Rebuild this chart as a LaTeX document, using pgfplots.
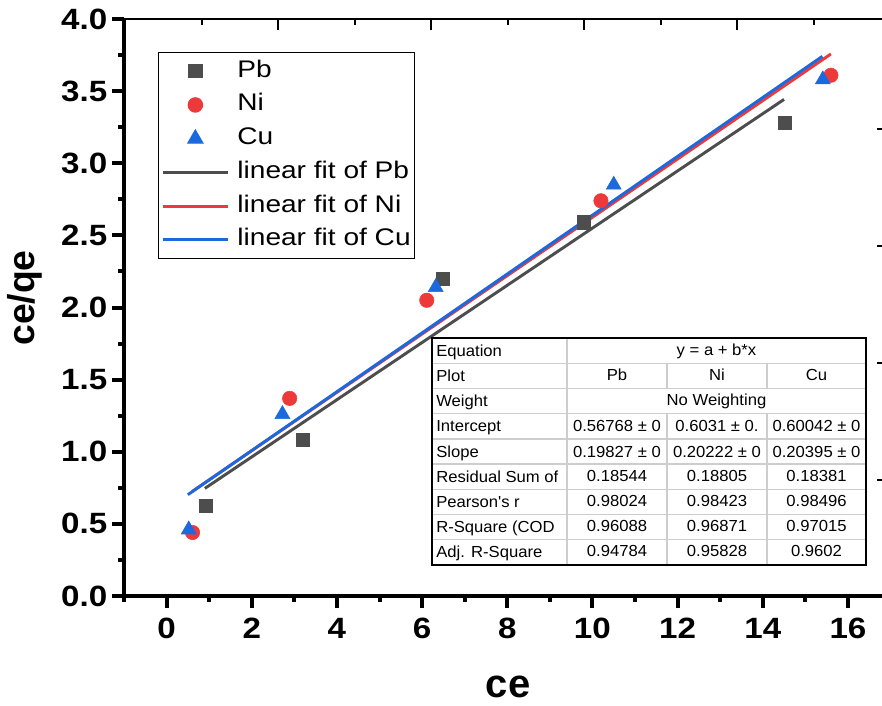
\documentclass[border=0pt]{standalone}
\usepackage{fontspec}
\setmainfont{Liberation Sans}
\newfontfamily\widefont[FakeStretch=1.13]{Liberation Sans}
\newfontfamily\legfont[FakeStretch=1.17]{Liberation Sans}
\newfontfamily\tabfam[FakeStretch=1.04]{Liberation Sans}
\usepackage{pgfplots}
\pgfplotsset{compat=1.18}
\definecolor{cPb}{RGB}{77,77,77}
\definecolor{cNi}{RGB}{238,57,59}
\definecolor{cCu}{RGB}{27,105,222}
\definecolor{tgrid}{RGB}{205,205,205}
\newcommand{\tabfont}{\tabfam\fontsize{12}{12}\selectfont}
\begin{document}
\begin{tikzpicture}
\useasboundingbox (0,0) rectangle (661.5pt,-529.5pt);
% overlay axis for the thin top line and its ticks (other layer)
\begin{axis}[
  at={(93pt,-447pt)}, anchor=south west,
  scale only axis, width=568.5pt, height=432.75pt,
  xmin=124, xmax=882, ymin=-596, ymax=-19,
  axis x line*=top, axis y line*=right,
  x axis line style={line width=1.3pt,-},
  y axis line style={draw=none},
  xtick=\empty, ytick=\empty,
  clip=false,
]
\pgfplotsinvokeforeach{278,431,584,737}{\fill (axis cs:#1,-19) ++(-0.75pt,0pt) rectangle ++(1.5pt,-8pt);}
\pgfplotsinvokeforeach{202,355,508,661,814}{\fill (axis cs:#1,-19) ++(-0.75pt,0pt) rectangle ++(1.5pt,-4.5pt);}
\pgfplotsinvokeforeach{-480,-363,-246,-129}{\fill (axis cs:882,#1) ++(0pt,-0.6pt) rectangle ++(-4pt,1.2pt);}
\end{axis}
\begin{axis}[
  at={(93pt,-447pt)}, anchor=south west,
  scale only axis, width=568.5pt, height=432.75pt,
  xmin=-1, xmax=16.8, ymin=0, ymax=4,
  axis x line*=bottom, axis y line*=left,
  axis line style={line width=3.2pt,-},
  xtick={0,2,...,16}, minor xtick={-1,1,...,15},
  ytick={0,0.5,...,4}, minor ytick={0.25,0.75,...,3.75},
  tick align=outside,
  major tick length=9pt, minor tick length=4.5pt,
  tick label style={font=\widefont\bfseries\fontsize{22}{22}\selectfont, /pgf/number format/assume math mode=true},
  xticklabel style={yshift=-4pt},
  yticklabel style={/pgf/number format/fixed, /pgf/number format/fixed zerofill, /pgf/number format/precision=1},
  xlabel={ce}, ylabel={ce/qe},
  xlabel style={at={(axis description cs:0.5066,-0.176)}, anchor=base, font=\bfseries\fontsize{30}{30}\selectfont},
  ylabel style={at={(axis description cs:-0.1306,0.5165)}, anchor=center, font=\bfseries\fontsize{28}{28}\selectfont},
  legend style={at={(axis description cs:0.0449,0.9428)}, anchor=north west, draw=black, thick,
    font=\legfont\fontsize{18}{18}\selectfont, inner xsep=2pt, inner ysep=4.5pt,
    nodes={inner sep=1pt, text height=13pt, text depth=4pt},
    row sep=6.3pt, cells={anchor=west},
    /tikz/every odd column/.append style={column sep=5pt}},
  clip=false,
]
\addplot[only marks, mark=square*, mark size=5pt, color=cPb,
  legend image code/.code={\draw[mark repeat=2,mark phase=2] plot coordinates {(0pt,0pt)(24.4pt,0pt)(48.75pt,0pt)};}]
  coordinates {(0.92,0.625)(3.2,1.083)(6.48,2.2)(9.8,2.59)(14.52,3.28)};
\addlegendentry{Pb}
\addplot[only marks, mark=*, mark size=5.4pt, color=cNi,
  legend image code/.code={\draw[mark repeat=2,mark phase=2] plot coordinates {(0pt,0pt)(24.4pt,0pt)(48.75pt,0pt)};}]
  coordinates {(0.61,0.44)(2.89,1.37)(6.11,2.05)(10.2,2.74)(15.6,3.61)};
\addlegendentry{Ni}
\addplot[only marks, mark=triangle*, mark size=6.5pt, color=cCu,
  legend image code/.code={\draw[mark repeat=2,mark phase=2] plot coordinates {(0pt,0pt)(24.4pt,0pt)(48.75pt,0pt)};}]
  coordinates {(0.52,0.46)(2.72,1.26)(6.32,2.14)(10.5,2.85)(15.41,3.58)};
\addlegendentry{Cu}
\addplot[no marks, color=cPb, line width=2.2pt,
  legend image code/.code={\draw[line width=2.4pt] plot coordinates {(0pt,0pt)(48.75pt,0pt)};}]
  coordinates {(0.9,0.7461)(14.5,3.4426)};
\addlegendentry{linear fit of Pb}
\addplot[no marks, color=cNi, line width=2.2pt,
  legend image code/.code={\draw[line width=2.4pt] plot coordinates {(0pt,0pt)(48.75pt,0pt)};}]
  coordinates {(0.6,0.7244)(15.6,3.7577)};
\addlegendentry{linear fit of Ni}
\addplot[no marks, color=cCu, line width=2.2pt,
  legend image code/.code={\draw[line width=2.4pt] plot coordinates {(0pt,0pt)(48.75pt,0pt)};}]
  coordinates {(0.5,0.7024)(15.4,3.7412)};
\addlegendentry{linear fit of Cu}
% thick tick marks as filled bars
\pgfplotsinvokeforeach{0,2,4,6,8,10,12,14,16}{\fill (axis cs:#1,0) ++(-1.5pt,0pt) rectangle ++(3pt,-9pt);}
\pgfplotsinvokeforeach{-1,1,3,5,7,9,11,13,15}{\fill (axis cs:#1,0) ++(-1.5pt,0pt) rectangle ++(3pt,-4.8pt);}
\pgfplotsinvokeforeach{0,0.5,1,1.5,2,2.5,3,3.5,4}{\fill (axis cs:-1,#1) ++(0pt,-1.5pt) rectangle ++(-9pt,3pt);}
\pgfplotsinvokeforeach{0.25,0.75,1.25,1.75,2.25,2.75,3.25,3.75}{\fill (axis cs:-1,#1) ++(0pt,-1.5pt) rectangle ++(-4.8pt,3pt);}
\end{axis}
% fit-results table (pixel coordinates)
\begin{scope}[x=0.75pt,y=-0.75pt]
\fill[white] (432,338) rectangle (866,565);
\foreach \yy in {363.2,388.4,413.7,438.9,464.1,489.3,514.5,539.8}
  \draw[tgrid, line width=1pt] (432,\yy) -- (866,\yy);
\draw[tgrid, line width=1pt] (567,338) -- (567,565);
\foreach \xx in {667,767} {
  \draw[tgrid, line width=1pt] (\xx,363.2) -- (\xx,388.4);
  \draw[tgrid, line width=1pt] (\xx,413.7) -- (\xx,565);
}
\draw[black, line width=0.8pt] (432,338) rectangle (866,565);
\tikzset{lc/.style={anchor=base west, inner sep=0pt, font=\tabfont},
         cc/.style={anchor=base, inner sep=0pt, font=\tabfont}}
\node[lc] at (436,356.1) {Equation};
\node[lc] at (436,381.3) {Plot};
\node[lc] at (436,406.5) {Weight};
\node[lc] at (436,431.8) {Intercept};
\node[lc] at (436,457.0) {Slope};
\node[lc] at (436,482.2) {Residual Sum of};
\node[lc] at (436,507.4) {Pearson\textquotesingle s r};
\node[lc] at (436,532.7) {R-Square (COD};
\node[lc] at (436,557.9) {Adj. R-Square};
\node[cc] at (716.5,355) {y = a + b*x};
\node[cc] at (617,380.3) {Pb};
\node[cc] at (717,380.3) {Ni};
\node[cc] at (816.5,380.3) {Cu};
\node[cc] at (716.5,405.5) {No Weighting};
\node[cc] at (617,431.8) {0.56768 ± 0};
\node[cc] at (717,431.8) {0.6031 ± 0.};
\node[cc] at (816.5,431.8) {0.60042 ± 0};
\node[cc] at (617,457.0) {0.19827 ± 0};
\node[cc] at (717,457.0) {0.20222 ± 0};
\node[cc] at (816.5,457.0) {0.20395 ± 0};
\node[cc] at (617,481.2) {0.18544};
\node[cc] at (717,481.2) {0.18805};
\node[cc] at (816.5,481.2) {0.18381};
\node[cc] at (617,506.4) {0.98024};
\node[cc] at (717,506.4) {0.98423};
\node[cc] at (816.5,506.4) {0.98496};
\node[cc] at (617,531.7) {0.96088};
\node[cc] at (717,531.7) {0.96871};
\node[cc] at (816.5,531.7) {0.97015};
\node[cc] at (617,556.9) {0.94784};
\node[cc] at (717,556.9) {0.95828};
\node[cc] at (816.5,556.9) {0.9602};
\end{scope}
\end{tikzpicture}
\end{document}
